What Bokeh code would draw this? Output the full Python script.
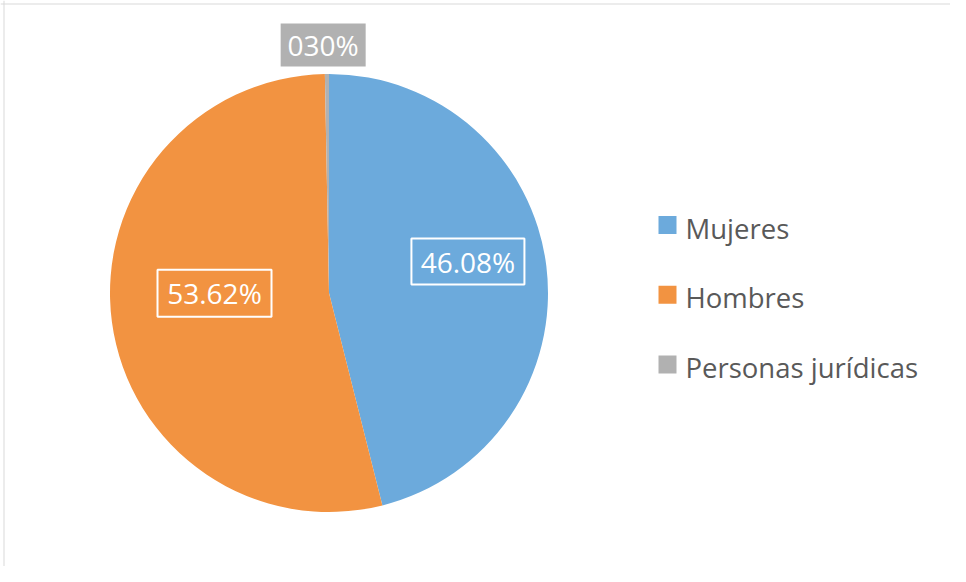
import math
from bokeh.plotting import figure
from bokeh.models import ColumnDataSource, Span
from bokeh.core.properties import value
from bokeh.embed import file_html
from bokeh.resources import INLINE

# ---- data ----
categories = ["Mujeres", "Hombres", "Personas jurídicas"]
values = [46.08, 53.62, 0.30]
label_texts = ["46.08%", "53.62%", "030%"]
colors = ["#6CAADC", "#F29341", "#B1B1B1"]

# ---- layout (pixels) ----
W, H = 950, 566
cx, cy, R = 328.5, 273.5, 219
FONT = "Open Sans"

p = figure(width=W, height=H, x_range=(0, W), y_range=(0, H),
           x_axis_type=None, y_axis_type=None, toolbar_location=None,
           output_backend="svg", min_border=0)
p.grid.visible = False
p.outline_line_color = None
p.background_fill_color = "white"
p.border_fill_color = "white"

# chart-area border (top & left visible)
p.add_layout(Span(location=H - 3.5, dimension="width", line_color="#D9D9D9", line_width=1))
p.add_layout(Span(location=3.5, dimension="height", line_color="#D9D9D9", line_width=1))

# ---- pie: clockwise from 12 o'clock ----
total = sum(values)
starts, ends, mids = [], [], []
cum = 0.0
for v in values:
    a0 = cum / total
    cum += v
    a1 = cum / total
    starts.append(math.pi / 2 - 2 * math.pi * a1)
    ends.append(math.pi / 2 - 2 * math.pi * a0)
    mids.append(2 * math.pi * (a0 + a1) / 2)  # clockwise from top

src = ColumnDataSource(dict(cat=categories, val=values, start=starts, end=ends, color=colors))
p.wedge(x=cx, y=cy, radius=R, start_angle="start", end_angle="end",
        fill_color="color", line_color=None, source=src)

# ---- data labels ----
dist = [141.5, 114.5, R + 29]
lift = [14.0, 15.0, 0.0]
side = [-1.5, -1.0, -3.5]
box_w = [113, 114, 85]
box_h = [46, 47, 43]
lx = [cx + d * math.sin(m) + s for d, m, s in zip(dist, mids, side)]
ly = [cy + d * math.cos(m) + l for d, m, l in zip(dist, mids, lift)]
lab = ColumnDataSource(dict(x=lx, y=ly, t=label_texts, w=box_w, h=box_h,
                            fill=[None, None, colors[2]],
                            line=["white", "white", None]))
p.rect(x="x", y="y", width="w", height="h", width_units="screen", height_units="screen",
       fill_color="fill", line_color="line", line_width=2, source=lab)
p.text(x="x", y="y", text="t", text_color="white", text_font=value(FONT),
       text_font_size="28px", text_align="center", text_baseline="middle", source=lab)

# ---- legend ----
leg_x, leg_y0, pitch = 667, 341.5, 69.75
lg = ColumnDataSource(dict(x=[leg_x] * 3, y=[leg_y0 - i * pitch for i in range(3)],
                           tx=[leg_x + 18] * 3,
                           ty=[leg_y0 - i * pitch - 3 for i in range(3)],
                           t=categories, color=colors))
p.rect(x="x", y="y", width=18, height=18, width_units="screen", height_units="screen",
       fill_color="color", line_color=None, source=lg)
p.text(x="tx", y="ty", text="t", text_color="#595959", text_font=value(FONT),
       text_font_size="27.5px", text_align="left", text_baseline="middle", source=lg)

open("out.html", "w").write(file_html(p, INLINE))
